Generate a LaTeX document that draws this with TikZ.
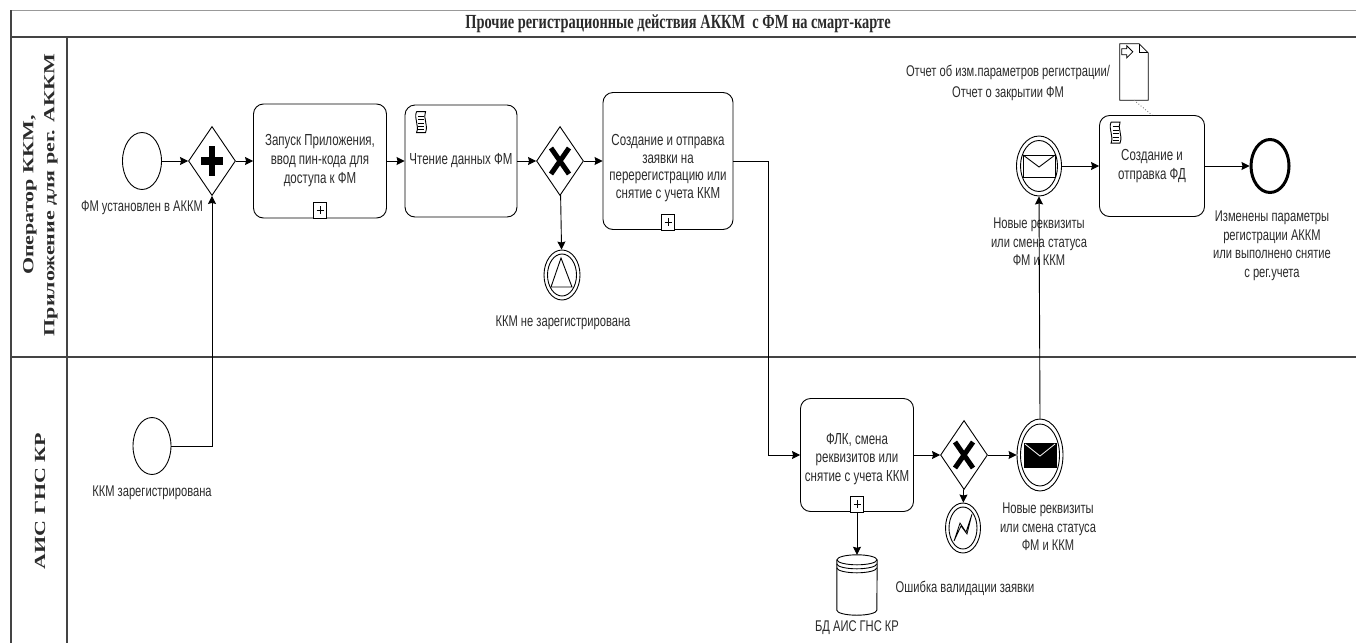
\documentclass[tikz,border=0pt]{standalone}
\usepackage{fontspec}
\setmainfont{Liberation Sans}[FakeStretch=0.72]
\newfontfamily\serifcond{Liberation Serif}[FakeStretch=0.72]
\newfontfamily\seriflane{Liberation Serif}
\usetikzlibrary{shapes.geometric,arrows.meta,calc}
\definecolor{txt}{HTML}{2B2B2B}
\definecolor{frame}{HTML}{444444}

\newcommand\submark[1]{%
  \draw[line width=0.8pt,fill=white] ($(#1.south)+(-6.5,0)$) rectangle ($(#1.south)+(6.5,-16)$);
  \draw[line width=0.8pt] ($(#1.south)+(-3.5,-8)$) -- ($(#1.south)+(3.5,-8)$)
                          ($(#1.south)+(0,-12)$) -- ($(#1.south)+(0,-4)$);}
\newcommand\scripticon[1]{%
  \begin{scope}[shift={(#1.north west)}]
    \draw[line width=0.9pt,fill=white] (12,7) -- (21,7) .. controls (18,13) and (24,20) .. (21,28)
       -- (12,28) .. controls (15,21) and (9,14) .. (12,7);
    \foreach \yy in {11.5,15,18.5,22,25} \draw[line width=0.7pt] (13.5,\yy) -- (19.8,\yy);
  \end{scope}}

\begin{document}
\begin{tikzpicture}[x=1pt,y=-1pt,
  every node/.style={text=txt},
  lbl/.style={font=\fontsize{15.5}{18.5}\selectfont, align=center, inner sep=0pt},
  task/.style={draw=black, rounded corners=10pt, line width=0.9pt, align=center,
               font=\fontsize{16}{19}\selectfont, inner sep=2pt},
  ev/.style={ellipse, draw=black, line width=0.9pt, inner sep=0pt},
  gw/.style={diamond, draw=black, line width=0.9pt, inner sep=0pt,
             minimum width=47pt, minimum height=69pt},
  flow/.style={line width=0.9pt, draw=black, -{Stealth[length=8pt,width=8pt,inset=1pt]}},
  framel/.style={draw=frame, line width=1.3pt}]

\useasboundingbox (0,0) rectangle (1356,643);

% frame
\draw[draw=gray!80, line width=1pt] (11,10) -- (1356,10);
\draw[framel, line width=1.8pt] (11,37) -- (1356,37);
\draw[framel] (11,357) -- (1356,357);
\draw[framel] (11,10) -- (11,643);
\draw[framel] (67,37) -- (67,643);

% title and lanes
\node[font=\serifcond\bfseries\fontsize{20}{24}\selectfont] (title) at (678,24)
  {Прочие регистрационные действия АККМ\ \ с ФМ на смарт-карте};
\node[rotate=90, font=\seriflane\bfseries\fontsize{22}{26}\selectfont, inner sep=0pt] (lane1a) at (30,195)
  {\scalebox{1}[0.7]{Оператор ККМ,}};
\node[rotate=90, font=\seriflane\bfseries\fontsize{22}{26}\selectfont, inner sep=0pt] (lane1b) at (51,195)
  {\scalebox{1}[0.7]{Приложение для рег. АККМ}};
\node[rotate=90, font=\seriflane\bfseries\fontsize{22}{26}\selectfont, inner sep=0pt] (lane2) at (40,501)
  {\scalebox{1}[0.7]{АИС ГНС КР}};

% lane 1 nodes
\node[ev, minimum width=39pt, minimum height=57pt] (s1) at (142,161) {};
\node[lbl] (l1) at (142,208) {ФМ установлен в АККМ};
\node[gw] (g1) at (212,161) {};
\fill ($(g1.center)+(-3,-15)$) rectangle ($(g1.center)+(3,15)$);
\fill ($(g1.center)+(-11,-4)$) rectangle ($(g1.center)+(11,4)$);

\node[task, minimum width=133pt, minimum height=114pt] (t1) at (320,161)
  {Запуск Приложения,\\ввод пин-кода для\\доступа к ФМ};
\submark{t1}
\node[task, minimum width=112pt, minimum height=112pt] (t2) at (461,161) {Чтение данных ФМ};
\scripticon{t2}
\node[gw] (g2) at (560,161) {};
\draw[line width=5pt] ($(g2.center)+(-9,-13)$) -- ($(g2.center)+(9,13)$)
                      ($(g2.center)+(9,-13)$) -- ($(g2.center)+(-9,13)$);
\node[task, minimum width=130pt, minimum height=137pt] (t3) at (668,161) {};
\node[align=center, font=\fontsize{16}{17.5}\selectfont, inner sep=0pt] (t3txt) at (668,168)
  {Создание и отправка\\заявки на\\перерегистрацию или\\снятие с учета ККМ};
\submark{t3}

\node[ev, minimum width=36pt, minimum height=50pt] (e1) at (562,275) {};
\draw[line width=0.9pt] (e1.center) ellipse [x radius=14.5pt, y radius=21pt];
\draw[line width=0.9pt] ($(e1.center)+(-1,-17)$) -- ($(e1.center)+(10,12)$) -- ($(e1.center)+(-11,12)$) -- cycle;
\node[lbl] (l3) at (563,323) {ККМ не зарегистрирована};

% right part lane 1
\node[ev, minimum width=45pt, minimum height=60pt] (m1) at (1039,166) {};
\draw[line width=0.9pt] (m1.center) ellipse [x radius=18.5pt, y radius=25.5pt];
\draw[line width=0.9pt] ($(m1.center)+(-16,-11)$) rectangle ($(m1.center)+(16,11)$);
\draw[line width=0.9pt] ($(m1.center)+(-16,-11)$) -- ($(m1.center)+(0,1)$) -- ($(m1.center)+(16,-11)$);
\node[lbl] (l7) at (1039,242) {Новые реквизиты\\или смена статуса\\ФМ и ККМ};

\node[task, minimum width=105pt, minimum height=101pt] (t5) at (1152,166) {Создание и\\отправка ФД};
\scripticon{t5}

\node[inner sep=0pt, minimum width=28pt, minimum height=56pt] (doc) at (1134,72) {};
\draw[line width=0.8pt, fill=white] (doc.north west) -- ($(doc.north east)+(-9,0)$) -- ($(doc.north east)+(0,9)$)
   -- (doc.south east) -- (doc.south west) -- cycle;
\draw[line width=0.8pt] ($(doc.north east)+(-9,0)$) -- ($(doc.north east)+(-9,9)$) -- ($(doc.north east)+(0,9)$);
\draw[line width=0.8pt] ($(doc.north west)+(2,5)$) -- ($(doc.north west)+(7,5)$) -- ($(doc.north west)+(7,2)$)
   -- ($(doc.north west)+(13,8)$) -- ($(doc.north west)+(7,14)$) -- ($(doc.north west)+(7,11)$)
   -- ($(doc.north west)+(2,11)$) -- cycle;
\node[lbl, font=\fontsize{15.5}{20.5}\selectfont] (l8) at (1008,83)
  {Отчет об изм.параметров регистрации/\\Отчет о закрытии ФМ};

\node[ev, line width=3pt, minimum width=38pt, minimum height=53pt] (end) at (1270,166) {};
\node[lbl] (l9) at (1272,246) {Изменены параметры\\регистрации АККМ\\или выполнено снятие\\с рег.учета};

% lane 2 nodes
\node[ev, minimum width=38pt, minimum height=57pt] (s2) at (152,446) {};
\node[lbl] (l2) at (152,493) {ККМ зарегистрирована};

\node[task, minimum width=113pt, minimum height=113pt] (t4) at (857,455) {};
\node[align=center, font=\fontsize{16}{18.5}\selectfont, inner sep=0pt] (t4txt) at (857,459)
  {ФЛК, смена\\реквизитов или\\снятие с учета ККМ};
\submark{t4}

\node[gw] (g3) at (964,455) {};
\draw[line width=5pt] ($(g3.center)+(-9,-13)$) -- ($(g3.center)+(9,13)$)
                      ($(g3.center)+(9,-13)$) -- ($(g3.center)+(-9,13)$);

\node[ev, minimum width=46pt, minimum height=72pt] (m2) at (1040,455) {};
\draw[line width=0.9pt] (m2.center) ellipse [x radius=19.5pt, y radius=31pt];
\fill ($(m2.center)+(-16.5,-12)$) rectangle ($(m2.center)+(16.5,13)$);
\draw[white, line width=0.8pt] ($(m2.center)+(-15,-11)$) -- ($(m2.center)+(0,1)$) -- ($(m2.center)+(15,-11)$);
\node[lbl] (l6) at (1048,527) {Новые реквизиты\\или смена статуса\\ФМ и ККМ};

\node[ev, minimum width=35pt, minimum height=50pt] (e2) at (963,528) {};
\draw[line width=0.9pt] (e2.center) ellipse [x radius=14pt, y radius=21pt];
\draw[line width=0.8pt] ($(e2.center)+(-9,13)$) -- ($(e2.center)+(-3,-5)$) -- ($(e2.center)+(3,4)$)
   -- ($(e2.center)+(9,-14)$) -- ($(e2.center)+(4,6)$) -- ($(e2.center)+(-2,-2)$) -- cycle;
\node[lbl] (l4) at (965,588) {Ошибка валидации заявки};

\node[inner sep=0pt, minimum width=40pt, minimum height=60pt] (d1) at (857,585) {};
\draw[line width=0.9pt, fill=white] ($(d1.north west)+(0,5)$) -- ($(d1.south west)+(0,-5)$)
   arc[start angle=180, end angle=360, x radius=20pt, y radius=5pt]
   -- ($(d1.north east)+(0,5)$);
\draw[line width=0.9pt] ($(d1.north)+(0,5)$) ellipse [x radius=20pt, y radius=5pt];
\draw[line width=0.9pt] ($(d1.north west)+(0,9)$) arc[start angle=180, end angle=360, x radius=20pt, y radius=5pt];
\draw[line width=0.9pt] ($(d1.north west)+(0,13)$) arc[start angle=180, end angle=360, x radius=20pt, y radius=5pt];
\node[lbl] (l5) at (857,628) {БД АИС ГНС КР};

% connectors
\coordinate (c1) at (768,300);
\draw[flow] (s1) -- (g1);
\draw[flow] (g1) -- (t1);
\draw[flow] (t1) -- (t2);
\draw[flow] (t2) -- (g2);
\draw[flow] (g2) -- (t3);
\draw[flow] (g2) -- (e1);
\draw[flow] (s2.east) -| (g1.south);
\draw[flow] (t3.east) -| (c1) |- (t4.west);
\draw[flow] (t4) -- (g3);
\draw[flow] (g3) -- (m2);
\draw[flow] (g3) -- (e2);
\draw[flow] (t4.south) -- (d1.north);
\draw[flow] (m2.north) -- (m1.south);
\draw[flow] (m1) -- (t5);
\draw[flow] (t5) -- (end);
\draw[gray, line width=0.9pt, dotted] (doc.south) -- (t5.north);
\end{tikzpicture}
\end{document}
